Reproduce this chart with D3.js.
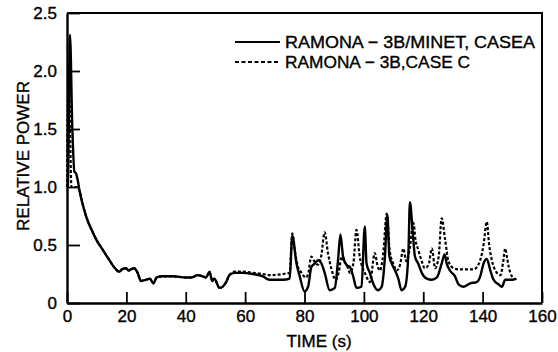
<!DOCTYPE html>
<html>
<head>
<meta charset="utf-8">
<script src="https://cdn.jsdelivr.net/npm/d3@7"></script>
<style>
  body { margin: 0; background: #fff; }
  text { font-family: "Liberation Sans", Arial, sans-serif; fill: #000; stroke: #000; stroke-width: 0.35px; }
</style>
</head>
<body>
<div id="chart"></div>
<script>
    // Case A (RAMONA-3B/MINET)
    var caseATime = [0, 0.3, 1.0, 1.8, 2.5, 3.0, 3.6, 4.2, 5.5, 6.8, 8.5, 10, 12, 13.5, 15, 16.5, 17.6, 18.5, 19.8, 20.8,
        21.5, 22.6, 23.8, 24.9, 26.6, 27.9, 29.1, 30.2, 32.2, 35.6, 40.1, 42, 44, 45.7, 46.8, 48, 48.9, 49.6, 51.4, 53.6,
        54.7, 56.4, 59.2, 62.6, 66, 68.2, 72.7, 75, 75.9, 77.3, 78.4, 80, 81.2, 82.3, 83.4, 84.6, 85.7, 86.8, 88.5, 90.2,
        91.3, 92.1, 93, 94.1, 95.3, 96.4, 97.5, 99.2, 100.3, 100.9, 102, 103.1, 104.8, 106, 107.1, 107.9, 108.6, 109.4, 110.5, 111.6,
        112.7, 113.9, 115, 115.5, 116.4, 117.2, 118.3, 119.5, 121.2, 122.9, 124.6, 126.2, 127.2, 127.9, 129, 130.7, 131.9, 133.5, 135.8, 138,
        139.2, 140.3, 141.4, 142.6, 143.7, 145.4, 146.5, 147.6, 148.8, 149.9, 151.4]
    var caseAPower = [1.0, 1.02, 2.31, 1.5, 1.13, 1.12, 1.06, 0.97, 0.83, 0.72, 0.62, 0.54, 0.46, 0.40, 0.34, 0.29, 0.27, 0.29, 0.30, 0.28,
        0.29, 0.30, 0.26, 0.19, 0.20, 0.21, 0.17, 0.22, 0.23, 0.23, 0.22, 0.22, 0.24, 0.23, 0.22, 0.27, 0.19, 0.21, 0.13, 0.18,
        0.24, 0.26, 0.26, 0.25, 0.23, 0.20, 0.20, 0.21, 0.58, 0.34, 0.23, 0.10, 0.14, 0.31, 0.34, 0.37, 0.34, 0.26, 0.11, 0.13,
        0.37, 0.59, 0.40, 0.33, 0.31, 0.23, 0.13, 0.14, 0.66, 0.34, 0.26, 0.17, 0.11, 0.14, 0.40, 0.76, 0.40, 0.34, 0.28, 0.21,
        0.11, 0.14, 0.43, 0.87, 0.63, 0.40, 0.34, 0.26, 0.21, 0.20, 0.22, 0.34, 0.42, 0.34, 0.28, 0.23, 0.16, 0.14, 0.17, 0.18,
        0.23, 0.34, 0.38, 0.28, 0.20, 0.16, 0.14, 0.20, 0.20, 0.20, 0.21]

    // Case C (RAMONA-3B), dashed
    var caseCTime = [0, 0.6, 1.5, 3.4, 4.2, 5.5, 6.8, 8.5, 10, 12, 13.5, 15, 16.5, 17.6, 18.5, 19.8, 20.8, 21.5, 22.6, 23.8,
        24.9, 26.6, 27.9, 29.1, 30.2, 32.2, 35.6, 40.1, 42, 44, 45.7, 46.8, 48, 48.9, 49.6, 51.4, 53.6, 54.7, 56.4, 59.2,
        62.6, 66, 68.2, 72.7, 75, 75.9, 76.7, 77.6, 79, 80.5, 81.2, 82.3, 83.3, 84.5, 85.6, 86.8, 87.9, 89, 90.5, 91.5,
        92.5, 93.2, 94.2, 95.3, 96.5, 97.5, 98.6, 99.6, 100.5, 102, 103.7, 104.5, 105.4, 106.5, 107.7, 108.7, 109.9, 111, 112.2, 113.3,
        114.3, 115.3, 116.7, 117.4, 118.3, 119.5, 120.5, 121.8, 122.9, 124, 125.2, 126.2, 127.4, 128.5, 130.2, 132, 137, 139.2, 140.3, 141.4,
        142.2, 143.1, 144.3, 146, 146.9, 147.6, 148.3, 148.8, 149.9, 150.5]
    var caseCPower = [1.0, 2.0, 1.0, 1.0, 0.97, 0.83, 0.72, 0.62, 0.54, 0.46, 0.40, 0.34, 0.29, 0.27, 0.29, 0.30, 0.28, 0.29, 0.30, 0.26,
        0.19, 0.20, 0.21, 0.17, 0.22, 0.23, 0.23, 0.22, 0.22, 0.24, 0.23, 0.22, 0.27, 0.19, 0.21, 0.13, 0.18, 0.24, 0.27, 0.27,
        0.26, 0.25, 0.24, 0.25, 0.26, 0.60, 0.46, 0.33, 0.26, 0.22, 0.25, 0.40, 0.36, 0.33, 0.40, 0.61, 0.43, 0.30, 0.20, 0.26,
        0.40, 0.36, 0.33, 0.26, 0.35, 0.63, 0.40, 0.30, 0.25, 0.18, 0.43, 0.33, 0.28, 0.42, 0.77, 0.45, 0.34, 0.28, 0.33, 0.47,
        0.36, 0.45, 0.69, 0.54, 0.46, 0.36, 0.30, 0.33, 0.47, 0.30, 0.40, 0.73, 0.54, 0.36, 0.30, 0.29, 0.29, 0.37, 0.50, 0.70,
        0.50, 0.37, 0.28, 0.24, 0.35, 0.47, 0.38, 0.31, 0.23, 0.22]

    var xTicks = [0, 20, 40, 60, 80, 100, 120, 140, 160]
    var yTicks = [0, 0.5, 1.0, 1.5, 2.0, 2.5]
    var legendLabels = ["RAMONA \u2212 3B/MINET, CASEA", "RAMONA \u2212 3B,CASE C"]

    var width = 558
    var height = 352

    var svg = d3.select("#chart")
      .append("svg")
      .attr("width", width)
      .attr("height", height)

    // scales (pixel spots)
    var x = d3.scaleLinear().domain([0, 160]).range([67, 542])
    var y = d3.scaleLinear().domain([0, 2.5]).range([303, 13])

    // frame top and right
    svg.append("path")
        .attr("d", "M" + x(0) + "," + y(2.5) + "H" + x(160) + "V" + y(0))
        .attr("fill", "none")
        .attr("stroke", "#000")
        .attr("stroke-width", 2)

    // bottom axis, ticks pointing inward
    var xAxis = svg.append("g")
        .attr("transform", "translate(0," + y(0) + ")")
        .call(d3.axisBottom(x)
            .tickValues(xTicks)
            .tickSizeInner(-11)
            .tickSizeOuter(0)
            .tickPadding(7)
            .tickFormat(d3.format("d")))
    xAxis.select(".domain").attr("stroke-width", 2.4)
    xAxis.selectAll(".tick line").attr("stroke-width", 1.8)
    xAxis.selectAll(".tick text").attr("font-size", 17)

    // left axis
    var yAxis = svg.append("g")
        .attr("transform", "translate(" + x(0) + ",0)")
        .call(d3.axisLeft(y)
            .tickValues(yTicks)
            .tickSizeInner(-13)
            .tickSizeOuter(0)
            .tickPadding(10)
            .tickFormat(function(d) { return d === 0 ? "0" : d3.format(".1f")(d) }))
    yAxis.select(".domain").attr("stroke-width", 2.4)
    yAxis.selectAll(".tick line").attr("stroke-width", 1.8)
    yAxis.selectAll(".tick text").attr("font-size", 17)

    // axis titles
    svg.append("text")
        .attr("transform", "translate(23,156) rotate(-90)")
        .attr("text-anchor", "middle")
        .attr("dy", "0.35em")
        .attr("font-size", 17)
        .text("RELATIVE POWER")

    svg.append("text")
        .attr("x", 319)
        .attr("y", 347)
        .attr("text-anchor", "middle")
        .attr("font-size", 17)
        .text("TIME (s)")

    // the two curves
    var line = d3.line()
        .x(function(d) { return x(d[0]) })
        .y(function(d) { return y(d[1]) })
        .curve(d3.curveMonotoneX)

    var caseC = caseCTime.map(function(t, i) { return [t, caseCPower[i]] })
    var caseA = caseATime.map(function(t, i) { return [t, caseAPower[i]] })

    svg.append("path")
        .datum(caseC)
        .attr("d", line)
        .attr("fill", "none")
        .attr("stroke", "#000")
        .attr("stroke-width", 2.2)
        .attr("stroke-dasharray", "3,2")

    svg.append("path")
        .datum(caseA)
        .attr("d", line)
        .attr("fill", "none")
        .attr("stroke", "#000")
        .attr("stroke-width", 2.4)
        .attr("stroke-linejoin", "round")

    // legend
    var legendY = [42, 62]
    var legendWidth = [250, 185]
    legendLabels.forEach(function(label, i) {
        svg.append("line")
            .attr("x1", 235).attr("x2", 280)
            .attr("y1", legendY[i]).attr("y2", legendY[i])
            .attr("stroke", "#000")
            .attr("stroke-width", 2)
            .attr("stroke-dasharray", i === 0 ? null : "4,2.5")
        svg.append("text")
            .attr("x", 285)
            .attr("y", legendY[i] + 6)
            .attr("font-size", 17)
            .attr("textLength", legendWidth[i])
            .attr("lengthAdjust", "spacingAndGlyphs")
            .text(label)
    })
</script>
</body>
</html>
